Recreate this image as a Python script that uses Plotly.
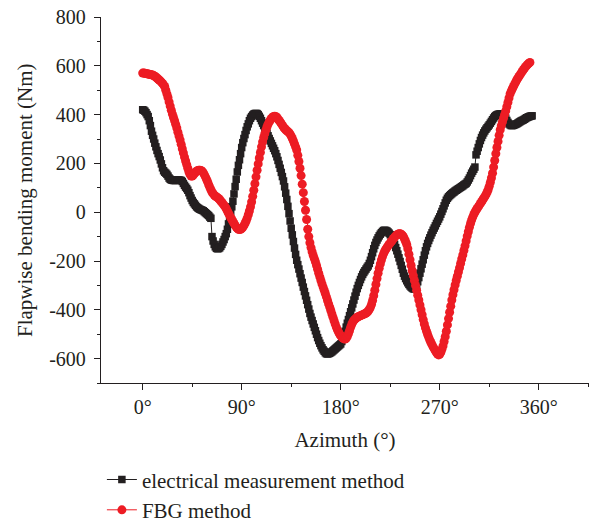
import plotly.graph_objects as go

# Electrical measurement method, 1-degree azimuth steps starting at 0 deg
elec_values = [
    420, 418, 414, 408, 400, 392, 375, 355, 332, 315,
    300, 283, 268, 253, 240, 228, 214, 198, 182, 170,
    164, 160, 155, 148, 140, 135, 132, 131, 130, 130,
    130, 131, 132, 132, 131, 130, 126, 118, 110, 103,
    97, 90, 80, 68, 58, 48, 40, 34, 28, 22,
    18, 15, 12, 10, 8, 6, 2, -2, -6, -10,
    -14, -20, -25, -100, -118, -132, -142, -148, -150, -149,
    -146, -140, -132, -122, -112, -100, -88, -70, -48, -25,
    0, 22, 45, 75, 105, 135, 165, 192, 215, 240,
    265, 285, 302, 318, 335, 350, 362, 375, 385, 392,
    398, 402, 404, 405, 404, 400, 393, 385, 375, 365,
    355, 345, 334, 324, 313, 302, 292, 282, 272, 262,
    252, 240, 227, 212, 196, 180, 163, 146, 128, 104,
    78, 52, 24, -6, -36, -66, -93, -120, -147, -173,
    -197, -215, -233, -252, -270, -288, -307, -325, -343, -361,
    -379, -397, -415, -430, -444, -458, -472, -486, -500, -514,
    -526, -537, -547, -556, -564, -570, -576, -580, -581, -580,
    -578, -575, -572, -568, -564, -560, -556, -552, -548, -544,
    -540, -530, -518, -504, -488, -471, -455, -440, -424, -408,
    -392, -376, -360, -344, -328, -313, -300, -288, -276, -265,
    -255, -247, -240, -233, -226, -220, -210, -197, -182, -166,
    -150, -136, -124, -114, -105, -97, -90, -84, -79, -75,
    -74, -75, -77, -81, -86, -92, -100, -110, -120, -132,
    -145, -158, -172, -187, -202, -218, -234, -250, -262, -272,
    -281, -289, -296, -302, -307, -311, -314, -315, -310, -300,
    -285, -268, -250, -232, -213, -195, -176, -158, -142, -128,
    -116, -105, -94, -84, -74, -65, -56, -46, -37, -28,
    -19, -8, 3, 14, 26, 38, 49, 57, 63, 68,
    72, 76, 80, 83, 87, 90, 93, 96, 99, 102,
    105, 108, 112, 115, 118, 124, 132, 140, 150, 160,
    168, 176, 185, 235, 250, 265, 280, 294, 306, 316,
    325, 333, 340, 346, 352, 358, 365, 372, 379, 386,
    392, 396, 399, 401, 402, 403, 403, 402, 400, 393,
    385, 376, 368, 362, 358, 355, 355, 356, 358, 360,
    362, 365, 368, 371, 374, 376, 378, 381, 384, 387,
    389, 391, 393, 394, 395,
]

# FBG method, 1-degree azimuth steps starting at 0 deg
fbg_values = [
    570, 570, 569, 568, 567, 566, 565, 564, 563, 562,
    560, 557, 554, 550, 546, 542, 538, 533, 528, 522,
    515, 500, 485, 470, 452, 435, 418, 402, 388, 375,
    360, 345, 328, 312, 296, 278, 260, 243, 226, 210,
    195, 180, 166, 155, 148, 148, 152, 158, 164, 168,
    171, 172, 172, 171, 168, 162, 154, 145, 135, 125,
    113, 102, 92, 83, 76, 70, 66, 63, 60, 56,
    51, 46, 40, 34, 28, 22, 14, 5, -4, -13,
    -22, -30, -38, -46, -54, -61, -66, -70, -71, -70,
    -67, -62, -55, -46, -36, -24, -10, 5, 22, 42,
    65, 90, 117, 145, 172, 198, 222, 245, 268, 288,
    306, 322, 337, 350, 361, 370, 378, 384, 389, 392,
    393, 392, 388, 382, 376, 370, 363, 356, 349, 343,
    338, 334, 330, 326, 320, 312, 302, 292, 280, 268,
    255, 233, 208, 180, 150, 115, 80, 44, 8, -30,
    -70, -100, -125, -145, -162, -177, -190, -203, -218, -234,
    -250, -265, -280, -294, -307, -320, -333, -347, -362, -376,
    -389, -403, -417, -431, -445, -458, -471, -482, -491, -499,
    -506, -512, -516, -519, -520, -517, -509, -498, -486, -472,
    -460, -450, -443, -438, -434, -431, -428, -426, -424, -422,
    -420, -418, -416, -413, -410, -405, -398, -390, -378, -362,
    -342, -320, -296, -272, -250, -230, -212, -196, -182, -170,
    -160, -152, -145, -138, -132, -126, -120, -114, -108, -102,
    -97, -93, -90, -88, -88, -90, -94, -100, -110, -120,
    -132, -150, -172, -195, -218, -240, -260, -280, -300, -320,
    -340, -360, -380, -400, -420, -440, -458, -474, -488, -501,
    -513, -524, -534, -543, -552, -560, -568, -575, -581, -585,
    -582, -574, -562, -548, -530, -510, -488, -462, -436, -410,
    -385, -360, -338, -318, -298, -280, -262, -245, -228, -210,
    -192, -175, -157, -138, -118, -98, -80, -62, -46, -32,
    -20, -9, 0, 8, 15, 22, 29, 36, 43, 50,
    57, 64, 72, 81, 92, 106, 122, 140, 160, 185,
    212, 240, 265, 290, 315, 338, 355, 370, 385, 400,
    415, 432, 450, 468, 485, 496, 506, 515, 524, 533,
    542, 549, 556, 563, 570, 577, 584, 590, 596, 601,
    606, 610, 614,
]

elec_azimuth = list(range(len(elec_values)))
fbg_azimuth = list(range(len(fbg_values)))

series_names = ["electrical measurement method", "FBG method"]
x_tick_vals = [0, 90, 180, 270, 360]
x_tick_text = ["0°", "90°", "180°", "270°", "360°"]
y_tick_vals = [-600, -400, -200, 0, 200, 400, 600, 800]
y_tick_text = ["-600", "-400", "-200", "0", "200", "400", "600", "800"]
x_title = "Azimuth (°)"
y_title = "Flapwise bending moment (Nm)"

BLACK = "#231f20"
RED = "#ed1c24"
FONT = "Liberation Serif"

fig = go.Figure()
fig.add_trace(go.Scatter(
    x=elec_azimuth, y=elec_values, name=series_names[0], mode="lines+markers",
    line=dict(color=BLACK, width=1),
    marker=dict(symbol="square", size=7.5, color=BLACK),
))
fig.add_trace(go.Scatter(
    x=fbg_azimuth, y=fbg_values, name=series_names[1], mode="lines+markers",
    line=dict(color=RED, width=1),
    marker=dict(symbol="circle", size=9, color=RED),
))

fig.update_layout(
    width=589, height=522,
    margin=dict(l=101, r=0, t=17, b=139, autoexpand=False),
    paper_bgcolor="white", plot_bgcolor="white",
    font=dict(family=FONT, size=20, color=BLACK),
    showlegend=True,
    legend=dict(
        xref="container", yref="container",
        x=0.173, y=0.12, xanchor="left", yanchor="top",
        font=dict(family=FONT, size=21, color=BLACK),
        bgcolor="rgba(0,0,0,0)", tracegroupgap=0,
    ),
)
fig.update_xaxes(
    range=[-37.9, 405.7],
    tickvals=x_tick_vals, ticktext=x_tick_text, tickangle=0,
    showline=True, linecolor=BLACK, linewidth=1.3,
    ticks="outside", ticklen=6, tickwidth=1.2, tickcolor=BLACK,
    minor=dict(dtick=45, tick0=0, ticks="outside", ticklen=3, tickwidth=1.2, tickcolor=BLACK),
    showgrid=False, zeroline=False, automargin=False,
    tickfont=dict(family=FONT, size=20, color=BLACK),
    title=dict(text=x_title, font=dict(family=FONT, size=21, color=BLACK), standoff=15),
)
fig.update_yaxes(
    range=[-700, 800],
    tickvals=y_tick_vals, ticktext=y_tick_text,
    showline=True, linecolor=BLACK, linewidth=1.3,
    ticks="outside", ticklen=6, tickwidth=1.2, tickcolor=BLACK,
    minor=dict(dtick=100, tick0=0, ticks="outside", ticklen=3, tickwidth=1.2, tickcolor=BLACK),
    showgrid=False, zeroline=False, automargin=False,
    ticklabelstandoff=4,
    tickfont=dict(family=FONT, size=20, color=BLACK),
)
fig.add_annotation(
    text=y_title, textangle=-90,
    xref="paper", yref="paper", x=(25 - 101) / 488, y=0.5,
    xanchor="center", yanchor="middle", showarrow=False,
    font=dict(family=FONT, size=21, color=BLACK),
)

fig.write_html(
    "out.html",
    config={"displayModeBar": False},
    post_script="document.body.style.margin='0px';",
)
